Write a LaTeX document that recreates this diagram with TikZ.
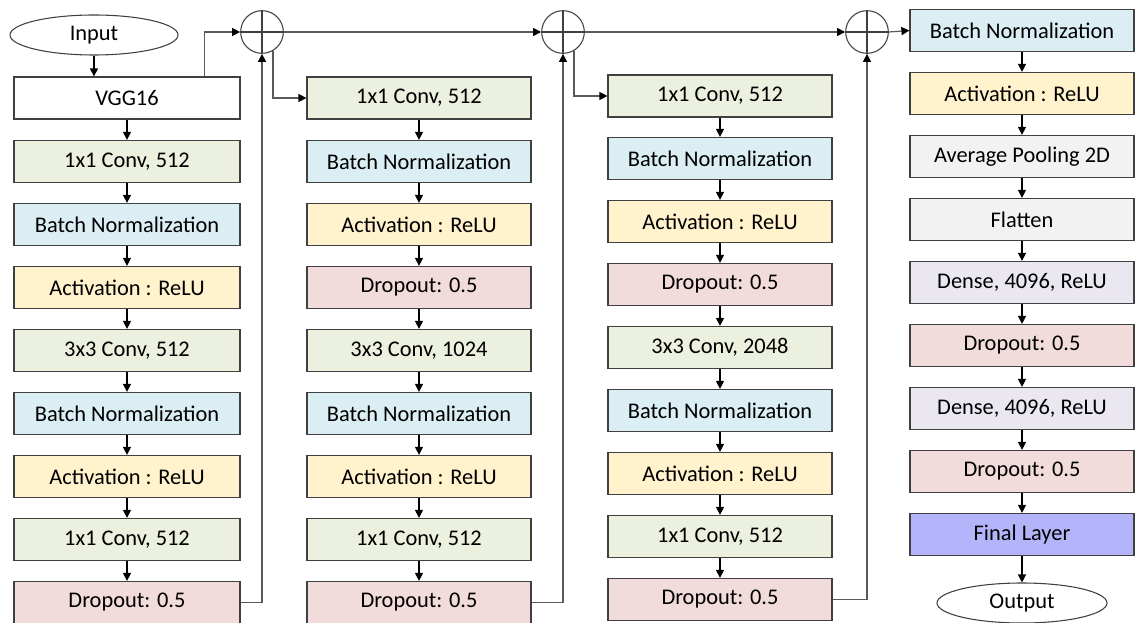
\documentclass[tikz,border=0pt]{standalone}
\usepackage{fontspec}
\setmainfont{Carlito}
\usetikzlibrary{arrows.meta,shapes.geometric,calc}
\definecolor{cgreen}{RGB}{235,241,222}
\definecolor{cblue}{RGB}{219,238,244}
\definecolor{cyellow}{RGB}{255,242,204}
\definecolor{cpink}{RGB}{242,220,219}
\definecolor{cgray}{RGB}{242,242,242}
\definecolor{clav}{RGB}{234,231,241}
\definecolor{cfinal}{RGB}{180,180,250}
\definecolor{edge}{RGB}{64,64,64}
\definecolor{skipc}{RGB}{90,90,90}
\tikzset{
  box/.style={draw=edge, line width=0.9pt, minimum width=168pt, minimum height=31.5pt, inner sep=0pt, font=\fontsize{16.8}{20}\selectfont, text=black},
  oval/.style={draw=edge, line width=0.8pt, ellipse, inner sep=0pt, font=\fontsize{16.8}{20}\selectfont, fill=white},
  sumnode/.style={draw=edge, line width=0.8pt, circle, minimum size=32pt, inner sep=0pt},
  arr/.style={-{Triangle[length=6pt,width=6pt,color=black]}, line width=0.8pt, black},
  skip/.style={-{Triangle[length=6pt,width=6pt,color=black]}, line width=0.9pt, skipc}
}
\begin{document}
\begin{tikzpicture}[x=0.75pt,y=-0.75pt]
\useasboundingbox (0,0) rectangle (1139,623);
% Column 1
\node[oval, minimum width=126pt, minimum height=30pt] (in) at (94,35) {Input};
\node[box, fill=white, minimum width=169.5pt] (vgg) at (127,98) {VGG16};
\node[box, fill=cgreen, minimum width=169.5pt] (a2) at (127,161.5) {1x1 Conv, 512};
\node[box, fill=cblue, minimum width=169.5pt] (a3) at (127,224.5) {Batch Normalization};
\node[box, fill=cyellow, minimum width=169.5pt] (a4) at (127,287.5) {Activation : ReLU};
\node[box, fill=cgreen, minimum width=169.5pt] (a5) at (127,350.5) {3x3 Conv, 512};
\node[box, fill=cblue, minimum width=169.5pt] (a6) at (127,413.5) {Batch Normalization};
\node[box, fill=cyellow, minimum width=169.5pt] (a7) at (127,476.5) {Activation : ReLU};
\node[box, fill=cgreen, minimum width=169.5pt] (a8) at (127,539.5) {1x1 Conv, 512};
\node[box, fill=cpink, minimum width=169.5pt] (a9) at (127,602.5) {Dropout: 0.5};
% Column 2
\node[box, fill=cgreen] (b1) at (419,98) {1x1 Conv, 512};
\node[box, fill=cblue] (b2) at (419,161.5) {Batch Normalization};
\node[box, fill=cyellow] (b3) at (419,224.5) {Activation : ReLU};
\node[box, fill=cpink] (b4) at (419,287.5) {Dropout: 0.5};
\node[box, fill=cgreen] (b5) at (419,350.5) {3x3 Conv, 1024};
\node[box, fill=cblue] (b6) at (419,413.5) {Batch Normalization};
\node[box, fill=cyellow] (b7) at (419,476.5) {Activation : ReLU};
\node[box, fill=cgreen] (b8) at (419,539.5) {1x1 Conv, 512};
\node[box, fill=cpink] (b9) at (419,602.5) {Dropout: 0.5};
% Column 3
\node[box, fill=cgreen] (c1) at (720,96) {1x1 Conv, 512};
\node[box, fill=cblue] (c2) at (720,158.5) {Batch Normalization};
\node[box, fill=cyellow] (c3) at (720,221.5) {Activation : ReLU};
\node[box, fill=cpink] (c4) at (720,284.5) {Dropout: 0.5};
\node[box, fill=cgreen] (c5) at (720,347.5) {3x3 Conv, 2048};
\node[box, fill=cblue] (c6) at (720,410.5) {Batch Normalization};
\node[box, fill=cyellow] (c7) at (720,473.5) {Activation : ReLU};
\node[box, fill=cgreen] (c8) at (720,536.5) {1x1 Conv, 512};
\node[box, fill=cpink] (c9) at (720,599.5) {Dropout: 0.5};
% Column 4
\node[box, fill=cblue] (d1) at (1022,30.5) {Batch Normalization};
\node[box, fill=cyellow] (d2) at (1022,93.5) {Activation : ReLU};
\node[box, fill=cgray] (d3) at (1022,156.5) {Average Pooling 2D};
\node[box, fill=cgray] (d4) at (1022,219.5) {Flatten};
\node[box, fill=clav] (d5) at (1022,282.5) {Dense, 4096, ReLU};
\node[box, fill=cpink] (d6) at (1022,345.5) {Dropout: 0.5};
\node[box, fill=clav] (d7) at (1022,408.5) {Dense, 4096, ReLU};
\node[box, fill=cpink] (d8) at (1022,471.5) {Dropout: 0.5};
\node[box, fill=cfinal] (d9) at (1022,534.5) {Final Layer};
\node[oval, minimum width=127.5pt, minimum height=30pt] (out) at (1022,603) {Output};
% Sum nodes
\foreach \n/\x in {s1/262, s2/563, s3/867}{
  \node[sumnode] (\n) at (\x,32) {};
  \draw[line width=0.8pt, edge] (\n.north) -- (\n.south) (\n.west) -- (\n.east);
}
% Vertical chains
\draw[arr] (in.south) -- (in.south |- vgg.north);
\foreach \p/\q in {vgg/a2, a2/a3, a3/a4, a4/a5, a5/a6, a6/a7, a7/a8, a8/a9,
  b1/b2, b2/b3, b3/b4, b4/b5, b5/b6, b6/b7, b7/b8, b8/b9,
  c1/c2, c2/c3, c3/c4, c4/c5, c5/c6, c6/c7, c7/c8, c8/c9,
  d1/d2, d2/d3, d3/d4, d4/d5, d5/d6, d6/d7, d7/d8, d8/d9}{
  \draw[arr] (\p) -- (\q);
}
\draw[arr] (d9) -- (out);
% Skip / residual lines
\draw[skip] ($(vgg.north east)+(-36,0)$) |- (s1.west);
\draw[skip] (a9.east) -| (s1.south);
\draw[skip] (s1.-60) |- (b1.west);
\draw[skip] (s1.east) -- (s2.west);
\draw[skip] (b9.east) -| (s2.south);
\draw[skip] (s2.-60) |- (c1.west);
\draw[skip] (s2.east) -- (s3.west);
\draw[skip] (c9.east) -| (s3.south);
\draw[skip] (s3.east) -- (d1.west);
\end{tikzpicture}
\end{document}
